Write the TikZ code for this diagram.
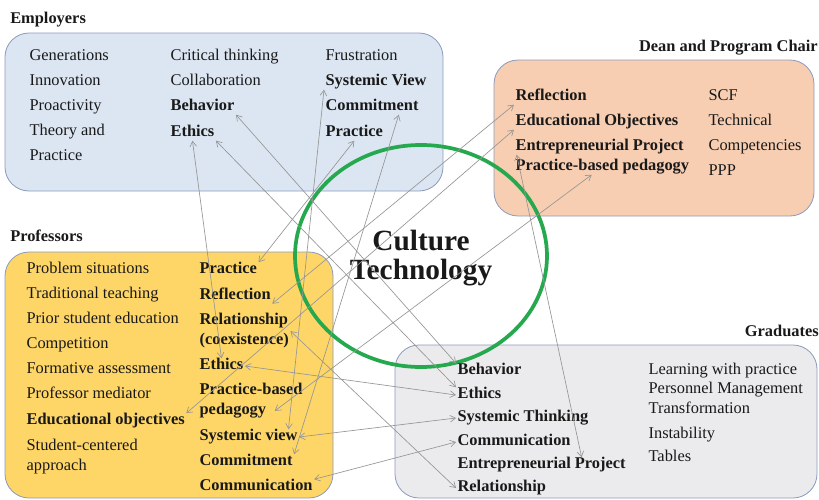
\documentclass[tikz,border=0pt]{standalone}
\usepackage{fontspec}
\setmainfont{Liberation Serif}
\usepackage{xcolor}
\definecolor{ink}{RGB}{25,25,25}
\definecolor{skyfill}{RGB}{220,230,242}
\definecolor{peachfill}{RGB}{248,206,178}
\definecolor{goldfill}{RGB}{254,214,104}
\definecolor{mistfill}{RGB}{235,235,237}
\definecolor{slate}{RGB}{138,154,188}
\definecolor{ring}{RGB}{38,168,78}
\definecolor{wire}{RGB}{150,150,150}
\usepackage{tikz}
\usetikzlibrary{arrows.meta}
\newcommand{\itemfont}{\fontsize{12.3}{15}\selectfont}
\tikzset{
  panel/.style={draw=slate, line width=0.6pt, rounded corners=18pt},
  item/.style={anchor=west, inner sep=1pt, text height=1.6ex, text depth=0.4ex,
               font=\itemfont, text=ink},
  keyitem/.style={item, font=\itemfont\bfseries},
  twoline/.style={anchor=north west, inner sep=1pt, align=left,
                  font=\itemfont\bfseries, text=ink},
  head/.style={inner sep=0pt, font=\itemfont\bfseries, text=ink},
  link/.style={draw=wire, line width=0.5pt,
               {Straight Barb[length=4pt,width=5pt]}-{Straight Barb[length=4pt,width=5pt]}},
}

\begin{document}
\begin{tikzpicture}[x=0.75pt, y=-0.75pt]
\useasboundingbox (0,0) rectangle (819,500);

% the four groups
\draw[panel, fill=skyfill]   (5,33)    rectangle (443,191);
\draw[panel, fill=peachfill] (494,60)  rectangle (814,216);
\draw[panel, fill=goldfill]  (5,252)   rectangle (333,498);
\draw[panel, fill=mistfill]  (395,345) rectangle (817,498);

\node[head, anchor=west] (hEmp)  at (10,20)   {Employers};
\node[head, anchor=east] (hDean) at (818,48)  {Dean and Program Chair};
\node[head, anchor=west] (hProf) at (10,236)  {Professors};
\node[head, anchor=east] (hGrad) at (819,331) {Graduates};

% centre ring
\draw[ring, line width=2.8pt] (421,256) ellipse [x radius=126, y radius=111];
\node[font=\fontsize{22}{24}\selectfont\bfseries, text=ink] (culture) at (421,240) {Culture};
\node[font=\fontsize{22}{24}\selectfont\bfseries, text=ink] (techno)  at (421,273) {Technology};

% employers
\foreach \t [count=\i] in {Generations,Innovation,Proactivity,Theory and,Practice}
  \node[item] (empA\i) at (28,32+25*\i) {\t};
\node[item] (empB1) at (169,57) {Critical thinking};
\node[item] (empB2) at (169,82) {Collaboration};
\node[keyitem] (empBehavior) at (169,107) {Behavior};
\node[keyitem] (empEthics)   at (169,133) {Ethics};
\node[item] (empC1) at (324,57) {Frustration};
\node[keyitem] (empSystemic)   at (324,82)  {Systemic View};
\node[keyitem] (empCommitment) at (324,107) {Commitment};
\node[keyitem] (empPractice)   at (324,133) {Practice};

% dean and program chair
\node[keyitem] (deanReflection) at (514,97)  {Reflection};
\node[keyitem] (deanEduObj)     at (514,122) {Educational Objectives};
\node[keyitem] (deanEntre)      at (514,147) {Entrepreneurial Project};
\node[keyitem] (deanPBP)        at (514,167) {Practice-based pedagogy};
\foreach \t [count=\i] in {SCF,Technical,Competencies,PPP}
  \node[item] (deanS\i) at (707,72+25*\i) {\t};

% professors
\foreach \t [count=\i] in {Problem situations,Traditional teaching,Prior student education,
                           Competition,Formative assessment,Professor mediator}
  \node[item] (profA\i) at (25,245+25*\i) {\t};
\node[keyitem] (profEduObj) at (25,421) {Educational objectives};
\node[twoline, font=\itemfont] (profA7) at (25,438) {Student-centered\\approach};
\node[keyitem] (profPractice)   at (198,270) {Practice};
\node[keyitem] (profReflection) at (198,296) {Reflection};
\node[twoline] (profRelation)   at (198,312) {Relationship\\(coexistence)};
\node[keyitem] (profEthics)     at (198,366) {Ethics};
\node[twoline] (profPBP)        at (198,382) {Practice-based\\pedagogy};
\node[keyitem] (profSystemic)   at (198,437) {Systemic view};
\node[keyitem] (profCommitment) at (198,462) {Commitment};
\node[keyitem] (profCommunication) at (198,487) {Communication};

% graduates
\node[keyitem] (gradBehavior)      at (456,371) {Behavior};
\node[keyitem] (gradEthics)        at (456,395) {Ethics};
\node[keyitem] (gradSystemic)      at (456,418) {Systemic Thinking};
\node[keyitem] (gradCommunication) at (456,442) {Communication};
\node[keyitem] (gradEntre)         at (456,465) {Entrepreneurial Project};
\node[keyitem] (gradRelation)      at (456,488) {Relationship};
\foreach \y/\t [count=\i] in {371/Learning with practice,390/Personnel Management,
                              410/Transformation,435/Instability,458/Tables}
  \node[item] (gradS\i) at (647,\y) {\t};

% shared competences
\draw[link] (empEthics.south) -- (profEthics.north);
\draw[link] (empBehavior.south east) -- (gradBehavior.north west);
\draw[link] (empEthics.south east) -- (gradEthics.north west);
\draw[link] (empSystemic.south west) -- ([xshift=-8pt]profSystemic.north east);
\draw[link] ([xshift=-16pt]empCommitment.south east) -- (profCommitment.north east);
\draw[link] (empPractice.south) -- (profPractice.north east);
\draw[link] (deanReflection.south west) -- (profReflection.south east);
\draw[link] (deanEduObj.south west) -- (profEduObj.north east);
\draw[link] ([xshift=-8pt]deanPBP.south) -- ([xshift=-22pt,yshift=7pt]profPBP.south east);
\draw[link] ([xshift=2pt]deanEntre.south west) -- ([xshift=30pt]gradEntre.north);
\draw[link] (profRelation.east) -- (gradRelation.west);
\draw[link] (profEthics.east) -- (gradEthics.west);
\draw[link] (profSystemic.east) -- (gradSystemic.west);
\draw[link] (profCommunication.north east) -- (gradCommunication.west);
\end{tikzpicture}
\end{document}
